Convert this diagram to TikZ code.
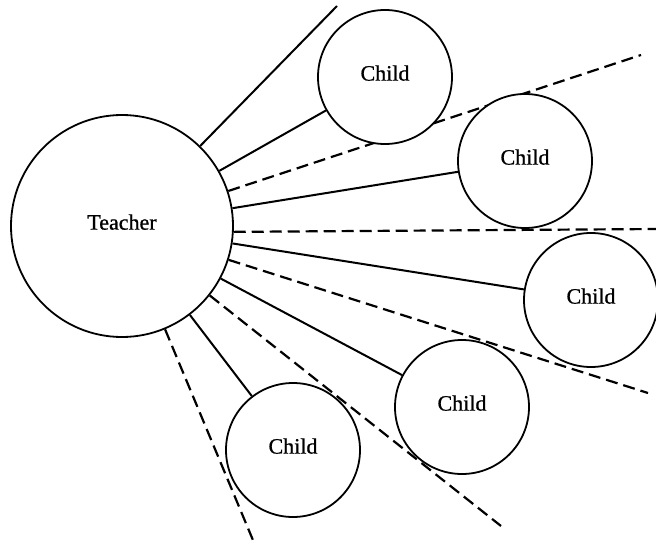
\documentclass[tikz,border=0pt]{standalone}
\usepackage{fontspec}
\setmainfont{Liberation Serif}
\newfontfamily\namefont{Liberation Serif}[FakeBold=0.8]
\usetikzlibrary{backgrounds}
\begin{document}
\begin{tikzpicture}[x=1pt,y=-1pt,
  person/.style={circle,draw,line width=1.8pt,fill=white,inner sep=0pt,
    text depth=8pt,font=\namefont\fontsize{22}{26}\selectfont},
  tie/.style={line width=2pt},
  gap/.style={line width=2.2pt,dash pattern=on 12pt off 6pt}]
\useasboundingbox (0,0) rectangle (656,549);

% teacher and children
\node[person,minimum size=222pt] (teacher) at (122,226) {Teacher};
\node[person,minimum size=134pt] (c1) at (385,77) {Child};
\node[person,minimum size=134pt] (c2) at (525,161) {Child};
\node[person,minimum size=134pt] (c3) at (591,300) {Child};
\node[person,minimum size=134pt] (c4) at (462,407) {Child};
\node[person,minimum size=134pt] (c5) at (293,450) {Child};

% free ends of the open lines
\coordinate (e0) at (337,6);
\coordinate (d1) at (641,55);
\coordinate (d2) at (656,229);
\coordinate (d3) at (648,393);
\coordinate (d4) at (501,526);
\coordinate (d5) at (255,545);

\begin{pgfonlayer}{background}
  % solid ties
  \draw[tie] (teacher) -- (e0);
  \draw[tie] (teacher) -- (c1);
  \draw[tie] (teacher) -- (c2);
  \draw[tie] (teacher) -- (c3);
  \draw[tie] (teacher) -- (c4);
  \draw[tie] (teacher) -- (c5);
  % dashed separators
  \draw[gap] (teacher) -- (d1);
  \draw[gap] (teacher.-3) -- (d2);
  \draw[gap] (teacher) -- (d3);
  \draw[gap] (teacher) -- (d4);
  \draw[gap] (teacher) -- (d5);
\end{pgfonlayer}
\end{tikzpicture}
\end{document}
